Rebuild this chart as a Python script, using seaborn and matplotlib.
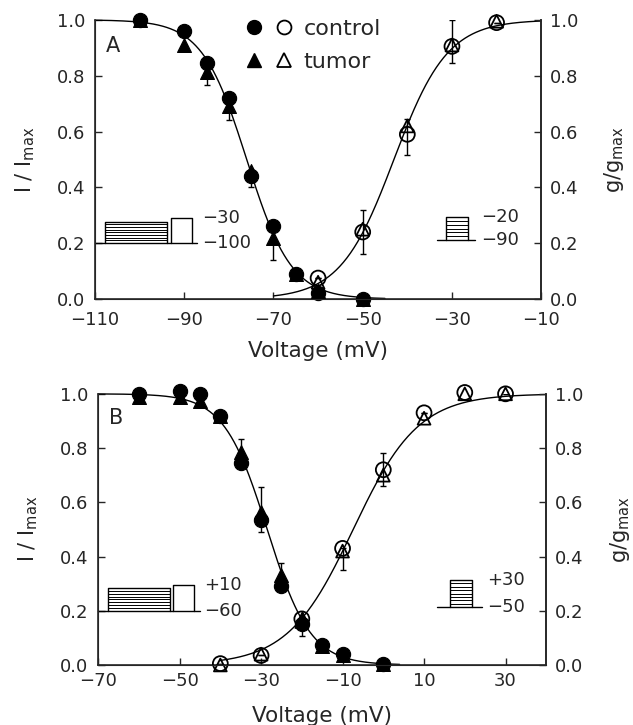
import numpy as np
import matplotlib
matplotlib.use('Agg')
import matplotlib.pyplot as plt
import seaborn as sns
from matplotlib.lines import Line2D
from matplotlib.legend_handler import HandlerTuple

#------------ Data ------------#
# Panel A: inactivation (filled) and activation (open)
A_inact_v = [-100, -90, -85, -80, -75, -70, -65, -60, -50]
A_inact_ctrl = [1.00, 0.96, 0.845, 0.72, 0.44, 0.26, 0.09, 0.02, 0.00]
A_inact_tum = [1.00, 0.91, 0.815, 0.69, 0.46, 0.22, 0.09, 0.03, 0.00]
A_inact_tum_lo = [0, 0, 0.05, 0.05, 0.06, 0.08, 0, 0, 0]
A_inact_tum_hi = [0, 0, 0, 0, 0, 0, 0, 0, 0]

A_act_v = [-60, -50, -40, -30, -20]
A_act_ctrl = [0.075, 0.24, 0.59, 0.905, 0.99]
A_act_tum = [0.06, 0.25, 0.62, 0.91, 0.995]
A_act_ctrl_lo = [0, 0.08, 0.075, 0.06, 0]
A_act_ctrl_hi = [0, 0.08, 0.055, 0.095, 0]

# Panel B
B_inact_v = [-60, -50, -45, -40, -35, -30, -25, -20, -15, -10, 0]
B_inact_ctrl = [1.00, 1.01, 1.00, 0.92, 0.745, 0.535, 0.29, 0.15, 0.075, 0.04, 0.005]
B_inact_tum = [0.99, 0.99, 0.975, 0.92, 0.785, 0.565, 0.33, 0.175, 0.07, 0.035, 0.005]
B_inact_tum_lo = [0, 0, 0, 0, 0, 0, 0, 0, 0, 0, 0]
B_inact_tum_hi = [0, 0, 0, 0, 0.05, 0.09, 0.045, 0, 0, 0, 0]
B_inact_ctrl_lo = [0, 0, 0, 0, 0, 0.045, 0, 0.045, 0, 0, 0]
B_inact_ctrl_hi = [0, 0, 0, 0, 0, 0, 0, 0, 0, 0, 0]

B_act_v = [-40, -30, -20, -10, 0, 10, 20, 30]
B_act_ctrl = [0.005, 0.035, 0.17, 0.43, 0.72, 0.93, 1.005, 1.00]
B_act_tum = [0.0, 0.04, 0.16, 0.42, 0.70, 0.91, 1.00, 1.00]
B_act_ctrl_lo = [0, 0, 0, 0.08, 0.06, 0, 0, 0]
B_act_ctrl_hi = [0, 0, 0, 0, 0.06, 0, 0, 0]

# Boltzmann fit parameters (V1/2, slope) and the voltage span each curve covers
A_inact_fit = (-76.0, 5.0, -110, -45)
A_act_fit = (-43.0, 6.0, -70, -10)
B_inact_fit = (-28.5, 5.3, -70, 4)
B_act_fit = (-7.4, 8.0, -40, 40)

A_xticks = [-110, -90, -70, -50, -30, -10]
B_xticks = [-70, -50, -30, -10, 10, 30]
y_ticks = [0.0, 0.2, 0.4, 0.6, 0.8, 1.0]


def boltzmann(fit, rising):
    vh, k, v0, v1 = fit
    v = np.linspace(v0, v1, 300)
    if rising:
        return v, 1 / (1 + np.exp((vh - v) / k))
    return v, 1 / (1 + np.exp((v - vh) / k))


def protocol(ax, x0, x1, base, pulses, labels, lx):
    # voltage-clamp protocol sketch: baseline plus pulses (optionally hatched)
    ax.plot([x0, x1], [base, base], color='black', lw=1.0, clip_on=False)
    for xs, xe, top, nlines in pulses:
        ax.plot([xs, xs, xe, xe], [base, top, top, base], color='black', lw=1.0)
        for yy in np.linspace(base, top, nlines + 2)[1:-1]:
            ax.plot([xs, xe], [yy, yy], color='black', lw=0.7)
    top = max(p[2] for p in pulses)
    ax.text(lx, top, labels[0], fontsize=13, va='center', ha='left')
    ax.text(lx, base, labels[1], fontsize=13, va='center', ha='left')


def panel(ax, inact_v, inact_ctrl, inact_tum, act_v, act_ctrl, act_tum,
          inact_fit, act_fit, xlim, xticks):
    v, y = boltzmann(inact_fit, False)
    sns.lineplot(x=v, y=y, ax=ax, color='black', lw=1.0, clip_on=False)
    v, y = boltzmann(act_fit, True)
    sns.lineplot(x=v, y=y, ax=ax, color='black', lw=1.0, clip_on=False)

    sns.scatterplot(x=inact_v, y=inact_tum, ax=ax, marker='^', s=100,
                    color='black', edgecolor='black', clip_on=False, zorder=3)
    sns.scatterplot(x=inact_v, y=inact_ctrl, ax=ax, marker='o', s=105,
                    color='black', edgecolor='black', clip_on=False, zorder=3)
    ax.scatter(act_v, act_tum, marker='^', s=85, facecolors='none',
               edgecolors='black', linewidths=1.3, clip_on=False, zorder=4)
    ax.scatter(act_v, act_ctrl, marker='o', s=115, facecolors='none',
               edgecolors='black', linewidths=1.3, clip_on=False, zorder=4)

    ax.set_xlim(*xlim)
    ax.set_ylim(0, 1.0)
    ax.set_xticks(xticks)
    ax.set_xticklabels([str(t).replace('-', '\u2212') for t in xticks])
    ax.set_yticks(y_ticks)
    ax.set_yticklabels(['%.1f' % t for t in y_ticks])
    ax.tick_params(direction='in', length=5, width=1.0, labelsize=13, pad=7)
    ax.spines['top'].set_visible(False)
    for s in ['left', 'right', 'bottom']:
        ax.spines[s].set_linewidth(1.2)
    ax.set_xlabel('Voltage (mV)', fontsize=15.5, va='top')
    ax.xaxis.set_label_coords(0.5, -0.152)
    ax.set_ylabel('I / I$_{\\rm max}$', fontsize=15)
    ax.yaxis.set_label_coords(-0.13, 0.5)

    ax2 = ax.twinx()
    ax2.set_ylim(0, 1.0)
    ax2.set_yticks(y_ticks)
    ax2.set_yticklabels(['%.1f' % t for t in y_ticks])
    ax2.tick_params(direction='in', length=5, width=1.0, labelsize=13, pad=6)
    ax2.spines['top'].set_visible(False)
    ax2.spines['right'].set_linewidth(1.2)
    ax2.set_ylabel('g/g$_{\\rm max}$', fontsize=15)
    ax2.yaxis.set_label_coords(1.137, 0.5)
    return ax2


sns.set_style('ticks')
plt.rcParams['font.family'] = ['DejaVu Sans']

fig = plt.figure(figsize=(6.33, 7.25), dpi=100)
axA = fig.add_axes([0.150, 0.5876, 0.705, 0.385])
axB = fig.add_axes([0.155, 0.0828, 0.708, 0.374])

#------------ Panel A ------------#
panel(axA, A_inact_v, A_inact_ctrl, A_inact_tum, A_act_v, A_act_ctrl, A_act_tum,
      A_inact_fit, A_act_fit, (-110, -10), A_xticks)
axA.errorbar(A_inact_v, A_inact_tum, yerr=[A_inact_tum_lo, A_inact_tum_hi],
             fmt='none', ecolor='black', elinewidth=1.0, capsize=2.5, zorder=2)
axA.errorbar(A_act_v, A_act_ctrl, yerr=[A_act_ctrl_lo, A_act_ctrl_hi],
             fmt='none', ecolor='black', elinewidth=1.0, capsize=2.5, zorder=2)
axA.tick_params(axis='x', pad=9)
axA.text(0.025, 0.905, 'A', transform=axA.transAxes, fontsize=15, va='center')
protocol(axA, -110, -87.2, 0.2, [(-107.8, -93.8, 0.277, 7), (-93.0, -88.3, 0.291, 0)],
         ['\u221230', '\u2212100'], -86.0)
protocol(axA, -33.4, -24.8, 0.21, [(-31.3, -26.3, 0.295, 5)],
         ['\u221220', '\u221290'], -23.5)

# legend: filled/open pairs
h_ctrl = (Line2D([], [], marker='o', color='black', ls='none', markersize=10),
          Line2D([], [], marker='o', mfc='none', mec='black', mew=1.3, ls='none', markersize=10))
h_tum = (Line2D([], [], marker='^', color='black', ls='none', markersize=10),
         Line2D([], [], marker='^', mfc='none', mec='black', mew=1.3, ls='none', markersize=10))
axA.legend([h_ctrl, h_tum], ['control', 'tumor'],
           handler_map={tuple: HandlerTuple(ndivide=None, pad=0.5)},
           loc='upper left', bbox_to_anchor=(0.29, 1.075), frameon=False,
           fontsize=16, handlelength=2.2, handletextpad=0.45, labelspacing=0.6)

#------------ Panel B ------------#
panel(axB, B_inact_v, B_inact_ctrl, B_inact_tum, B_act_v, B_act_ctrl, B_act_tum,
      B_inact_fit, B_act_fit, (-70, 40), B_xticks)
axB.errorbar(B_inact_v, B_inact_tum, yerr=[B_inact_tum_lo, B_inact_tum_hi],
             fmt='none', ecolor='black', elinewidth=1.0, capsize=2.5, zorder=2)
axB.errorbar(B_inact_v, B_inact_ctrl, yerr=[B_inact_ctrl_lo, B_inact_ctrl_hi],
             fmt='none', ecolor='black', elinewidth=1.0, capsize=2.5, zorder=2)
axB.errorbar(B_act_v, B_act_ctrl, yerr=[B_act_ctrl_lo, B_act_ctrl_hi],
             fmt='none', ecolor='black', elinewidth=1.0, capsize=2.5, zorder=2)
axB.tick_params(axis='x', pad=5)
axB.text(0.025, 0.91, 'B', transform=axB.transAxes, fontsize=15, va='center')
protocol(axB, -70, -45.1, 0.2, [(-67.6, -52.3, 0.283, 7), (-51.5, -46.4, 0.295, 0)],
         ['+10', '\u221260'], -44.0)
protocol(axB, 13.2, 24.2, 0.213, [(16.4, 21.7, 0.314, 7)],
         ['+30', '\u221250'], 25.5)

plt.savefig('out.png', dpi=100)
